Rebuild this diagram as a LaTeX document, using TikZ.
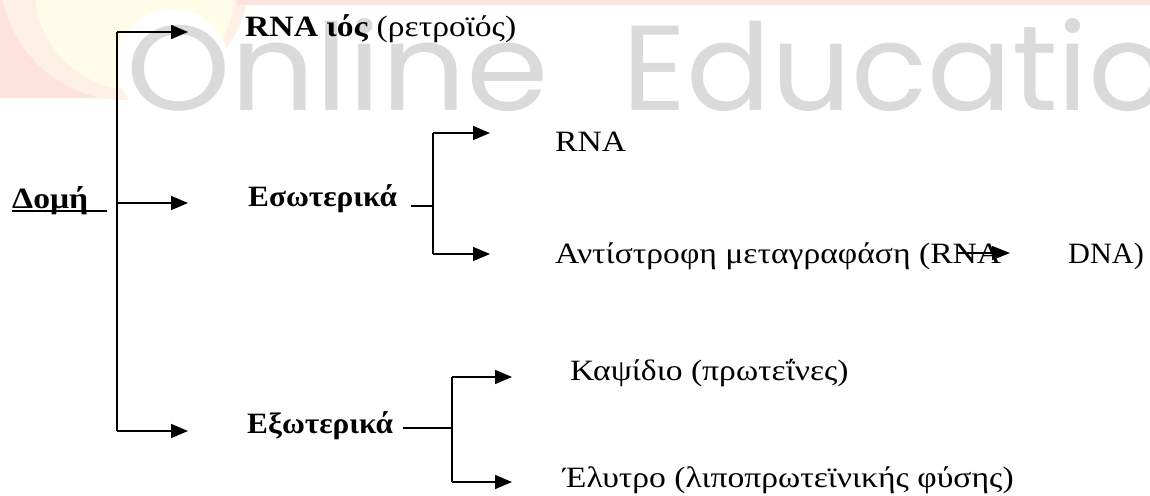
\documentclass[tikz,border=0pt]{standalone}
\usepackage{fontspec}
\usepackage{graphicx}
\setmainfont{Liberation Serif}[FakeStretch=1.14]
\newfontfamily\narrowserif{Liberation Serif}[FakeStretch=1.06]
\newfontfamily\wmfont{Poppins}
\usetikzlibrary{arrows.meta}

\definecolor{pinkbg}{HTML}{FDE2DD}
\definecolor{peachbg}{HTML}{FEF0E4}
\definecolor{yellowbg}{HTML}{FFFDE8}
\definecolor{wmgray}{HTML}{DADADA}

\tikzset{
  label/.style={anchor=base west, inner sep=0pt, font=\fontsize{29.5}{34}\selectfont},
  boldlabel/.style={label, font=\fontsize{29.5}{34}\selectfont\bfseries},
  headlabel/.style={label, font=\fontsize{29.5}{34}\selectfont\narrowserif\bfseries},
  link/.style={line width=1.6pt},
  arr/.style={line width=1.6pt, -{Triangle[length=17pt,width=14pt]}},
  wm/.style={anchor=base west, inner sep=0pt, text=wmgray}
}

\begin{document}
\begin{tikzpicture}[x=1pt,y=-1pt]
\useasboundingbox (0,0) rectangle (1150,495);
\clip (0,0) rectangle (1150,495);

% logo background in the upper left corner and the band along the top
\fill[pinkbg] (0,0) rectangle (133,98);
\fill[peachbg] (125,-25) circle (125);
\fill[yellowbg] (135,-10) circle (100);
\fill[pinkbg] (237,0) rectangle (1150,5);
\fill[white] (173,65) circle (56);

% watermark lettering
\node[wm] (wmA) at (126,110) {\resizebox{422pt}{92pt}{\wmfont Online}};
\node[wm] (wmB) at (622,110) {\resizebox{546pt}{92pt}{\wmfont Educatio}};

% labels
\node[label] (virus) at (245,37) {\textbf{RNA ιός} (ρετροϊός)};
\node[boldlabel] (domi) at (12,208) {Δομή};
\node[headlabel] (eso) at (248,206) {Εσωτερικά};
\node[headlabel] (exo) at (247,433) {Εξωτερικά};
\node[label] (rna) at (555,151) {RNA};
\node[label] (rt) at (555,263) {Αντίστροφη μεταγραφάση (RNA};
\node[label] (dna) at (1068,263) {\scalebox{0.9}[1]{DNA)}};
\node[label] (caps) at (570,380) {Καψίδιο (πρωτεΐνες)};
\node[label] (env) at (563,487) {Έλυτρο (λιποπρωτεϊνικής φύσης)};

% underline of the heading
\coordinate (ulA) at (12,211);
\coordinate (ulB) at (107,211);
\draw[line width=1.5pt] (ulA) -- (ulB);

% main bracket
\coordinate (mTop) at (117,32);
\coordinate (mMid) at (117,203);
\coordinate (mBot) at (117,431);
\coordinate (tTop) at (188,32);
\coordinate (tMid) at (188,203);
\coordinate (tBot) at (188,431);
\draw[link] (mTop) -- (mBot);
\draw[arr] (mTop) -- (tTop);
\draw[arr] (mMid) -- (tMid);
\draw[arr] (mBot) -- (tBot);

% bracket of the inner parts
\coordinate (eDash) at (411,206);
\coordinate (eJoin) at (433,206);
\coordinate (eTop) at (433,133);
\coordinate (eBot) at (433,254);
\coordinate (eTipA) at (490,133);
\coordinate (eTipB) at (490,254);
\draw[link] (eDash) -- (eJoin);
\draw[link] (eTop) -- (eBot);
\draw[arr] (eTop) -- (eTipA);
\draw[arr] (eBot) -- (eTipB);

% bracket of the outer parts
\coordinate (xDash) at (403,428);
\coordinate (xJoin) at (452,428);
\coordinate (xTop) at (452,377);
\coordinate (xBot) at (452,482);
\coordinate (xTipA) at (512,377);
\coordinate (xTipB) at (512,482);
\draw[link] (xDash) -- (xJoin);
\draw[link] (xTop) -- (xBot);
\draw[arr] (xTop) -- (xTipA);
\draw[arr] (xBot) -- (xTipB);

% RNA to DNA arrow
\coordinate (rdA) at (957,253);
\coordinate (rdB) at (1010,253);
\draw[line width=1.4pt, -{Triangle[length=18pt,width=14pt]}] (rdA) -- (rdB);
\end{tikzpicture}
\end{document}
